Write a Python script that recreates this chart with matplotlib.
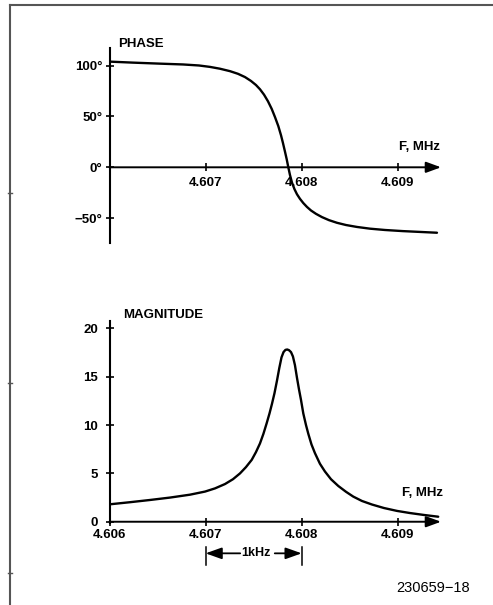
import matplotlib
matplotlib.use("Agg")
import matplotlib.pyplot as plt
from matplotlib.lines import Line2D
import numpy as np

plt.rcParams['font.family'] = ['Liberation Sans', 'DejaVu Sans']

F0 = 4.606  # MHz, left end of both frequency axes

# phase response (offset in kHz from 4.606 MHz, degrees)
phase_khz = [0.000, 0.245, 0.525, 0.765, 0.931, 1.046, 1.150, 1.254, 1.337, 1.410,
             1.472, 1.524, 1.566, 1.608, 1.649, 1.688, 1.722, 1.757, 1.785, 1.805,
             1.826, 1.844, 1.861, 1.878, 1.899, 1.925, 1.951, 1.982, 2.017, 2.055,
             2.097, 2.149, 2.211, 2.284, 2.367, 2.461, 2.575, 2.711, 2.867, 3.054,
             3.231, 3.408]
phase_deg = [104.0, 103.0, 102.0, 101.2, 100.2, 98.8, 97.0, 94.6, 92.0, 88.8,
             85.0, 81.0, 76.8, 71.5, 65.0, 57.5, 49.5, 40.5, 31.5, 24.0,
             15.5, 8.0, 0.0, -7.5, -15.0, -21.5, -26.5, -31.0, -35.2, -39.0,
             -42.5, -45.8, -49.0, -52.0, -54.6, -56.8, -58.7, -60.4, -61.7, -62.8,
             -63.6, -64.4]

# magnitude response
mag_khz = [0.000, 0.213, 0.421, 0.630, 0.838, 0.994, 1.098, 1.202, 1.285, 1.358,
           1.420, 1.480, 1.524, 1.566, 1.602, 1.636, 1.665, 1.691, 1.717, 1.743,
           1.767, 1.790, 1.811, 1.831, 1.850, 1.868, 1.889, 1.909, 1.930, 1.951,
           1.972, 1.993, 2.017, 2.045, 2.069, 2.102, 2.138, 2.190, 2.242, 2.305,
           2.381, 2.461, 2.537, 2.627, 2.732, 2.856, 2.992, 3.127, 3.273, 3.421]
mag_v = [1.80, 2.02, 2.25, 2.50, 2.80, 3.12, 3.45, 3.90, 4.40, 5.00,
         5.65, 6.40, 7.20, 8.10, 9.10, 10.2, 11.2, 12.2, 13.3, 14.6,
         15.9, 17.0, 17.55, 17.78, 17.82, 17.75, 17.55, 17.1, 16.2, 14.9,
         13.7, 12.6, 11.2, 10.0, 9.1, 8.0, 7.1, 6.0, 5.2, 4.4,
         3.7, 3.1, 2.6, 2.15, 1.78, 1.42, 1.12, 0.90, 0.70, 0.52]

x_ticks_top = [4.607, 4.608, 4.609]
x_ticks_bot = [4.606, 4.607, 4.608, 4.609]
phase_ticks = [100, 50, 0, -50]
phase_labels = ['100°', '50°', '0°', '\u221250°']
mag_ticks = [0, 5, 10, 15, 20]

phase_f = F0 + np.array(phase_khz) / 1000
mag_f = F0 + np.array(mag_khz) / 1000

W, H = 493, 605
XMIN, XMAX = F0, 4.60945


def fpos(x, y):
    return x / W, 1 - y / H


fig = plt.figure(figsize=(W / 100, H / 100), dpi=100)

bold = dict(fontweight='bold', fontsize=9.5)


def setup(ax, ylim):
    ax.set_xlim(XMIN, XMAX)
    ax.set_ylim(*ylim)
    ax.patch.set_alpha(0)
    for s in ['top', 'right']:
        ax.spines[s].set_visible(False)
    ax.spines['left'].set_linewidth(1.5)
    ax.spines['bottom'].set_position(('data', 0))
    ax.spines['bottom'].set_alpha(0)
    ax.tick_params(direction='inout', length=5.5, width=1.2, colors='black')
    # x axis with arrow head
    ax.annotate('', xy=(XMAX, 0), xytext=(XMIN, 0),
                arrowprops=dict(arrowstyle='-|>,head_length=0.6,head_width=0.22',
                                color='black', lw=1.4, mutation_scale=15,
                                shrinkA=0, shrinkB=0),
                annotation_clip=False)


# ---- phase ----
ax1 = fig.add_axes([109.5 / W, 1 - 243 / H, 331.5 / W, 195 / H])
setup(ax1, (-74.5, 117.4))
ax1.plot(phase_f, phase_deg, color='black', lw=1.7,
         solid_joinstyle='round', solid_capstyle='round')
ax1.set_xticks(x_ticks_top)
ax1.set_xticklabels(['4.607', '4.608', '4.609'], **bold)
ax1.set_yticks(phase_ticks)
ax1.set_yticklabels(phase_labels, **bold)
ax1.tick_params(axis='x', pad=4.5)
ax1.tick_params(axis='y', pad=2.5)

# ---- magnitude ----
ax2 = fig.add_axes([109.5 / W, 1 - 522.7 / H, 331.5 / W, 202 / H])
setup(ax2, (-0.1, 20.8))
ax2.plot(mag_f, mag_v, color='black', lw=1.7,
         solid_joinstyle='round', solid_capstyle='round')
ax2.set_xticks(x_ticks_bot)
ax2.set_xticklabels(['4.606', '4.607', '4.608', '4.609'], **bold)
ax2.set_yticks(mag_ticks)
ax2.set_yticklabels([str(t) for t in mag_ticks], **bold)
ax2.tick_params(axis='x', pad=2.7)
ax2.tick_params(axis='y', pad=5.5)

# 1 kHz span marker
for xv in [4.607, 4.608]:
    ax2.plot([xv, xv], [-2.59, -4.48], color='black', lw=1.1, clip_on=False)
arr = dict(arrowstyle='-|>,head_length=0.7,head_width=0.25', color='black',
           lw=1.3, mutation_scale=14, shrinkA=0, shrinkB=0)
ax2.annotate('', xy=(4.607, -3.27), xytext=(4.60736, -3.27), arrowprops=arr,
             annotation_clip=False)
ax2.annotate('', xy=(4.608, -3.27), xytext=(4.60772, -3.27), arrowprops=arr,
             annotation_clip=False)
ax2.text(4.60752, -3.27, '1kHz', ha='center', va='center', fontweight='bold',
         fontsize=9, clip_on=False)

# axis titles
fig.text(*fpos(118, 44), 'PHASE', ha='left', va='center', **bold)
fig.text(*fpos(440, 147.3), 'F, MHz', ha='right', va='center', **bold)
fig.text(*fpos(123, 315), 'MAGNITUDE', ha='left', va='center', **bold)
fig.text(*fpos(443, 493.3), 'F, MHz', ha='right', va='center', **bold)
fig.text(*fpos(470, 588), '230659\u221218', ha='right', va='center', fontsize=10.5)

# page frame
frame = '#555555'
fig.add_artist(Line2D([10 / W, 492 / W], [1 - 5 / H, 1 - 5 / H], color=frame, lw=1.5))
fig.add_artist(Line2D([10 / W, 10 / W], [1 - 5 / H, 0], color=frame, lw=1.5))
for yy in [193, 383, 573]:
    fig.add_artist(Line2D([8 / W, 12 / W], [1 - yy / H, 1 - yy / H], color=frame, lw=1))

fig.savefig('out.png', dpi=100)
